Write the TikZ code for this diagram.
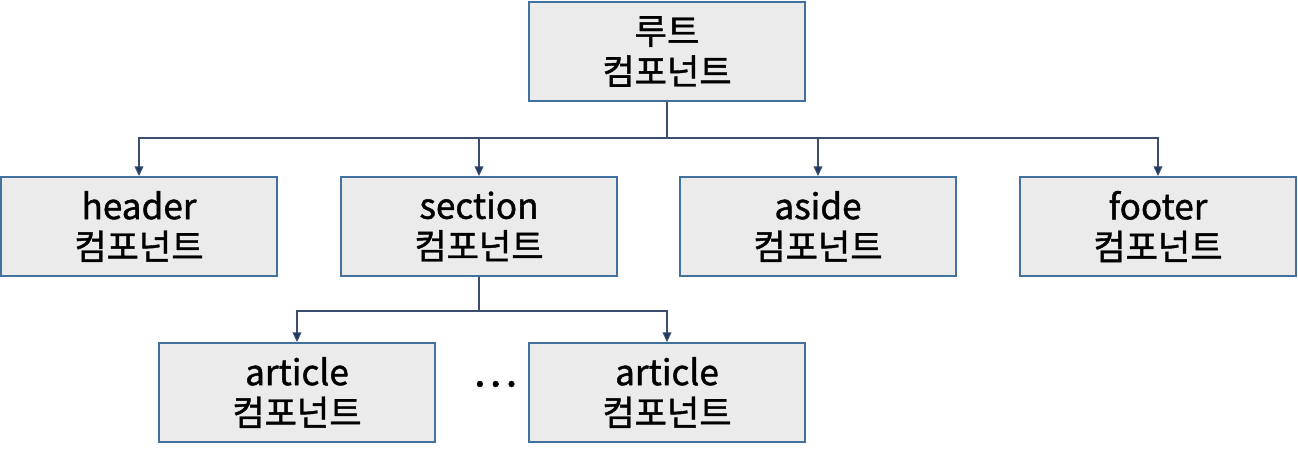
\documentclass[tikz,border=0pt]{standalone}
\usepackage{fontspec}
\setmainfont{Noto Sans CJK KR}
\newfontfamily\compfont[FakeBold=1.2]{Noto Sans CJK KR}
\usetikzlibrary{arrows.meta}
\definecolor{boxline}{HTML}{41719C}
\definecolor{boxfill}{HTML}{EBEBEB}
\definecolor{conn}{HTML}{3B4E6E}
\definecolor{tip}{HTML}{1F3864}
\tikzset{
  comp/.style={draw=boxline, line width=1.1pt, fill=boxfill, minimum width=5.52cm,
    minimum height=1.98cm, align=center, font=\compfont\fontsize{20}{23}\selectfont, inner sep=0pt},
  link/.style={draw=conn, line width=0.6pt, -{Triangle[width=5pt,length=5.5pt,fill=tip]}}
}
\begin{document}
\begin{tikzpicture}[x=0.02cm, y=-0.02cm]
        \useasboundingbox (0,0) rectangle (1298,458);

        % Componente radice
        \node[comp] (root) at (667,51.5) {루트\\컴포넌트};

        % Secondo livello
        \node[comp] (header) at (139,226.5) {header\\컴포넌트};
        \node[comp] (section) at (479,226.5) {section\\컴포넌트};
        \node[comp] (aside) at (818,226.5) {aside\\컴포넌트};
        \node[comp] (footer) at (1158,226.5) {footer\\컴포넌트};

        % Terzo livello (article)
        \node[comp] (art1) at (297,392.5) {article\\컴포넌트};
        \node[comp] (art2) at (667,392.5) {article\\컴포넌트};
        \node[font=\compfont\fontsize{24}{28}\selectfont] (dots) at (495,384) {⋯};

        % Collegamenti dalla radice
        \coordinate (rbus) at (667,138);
        \draw[draw=conn, line width=0.6pt] (root.south) -- (rbus);
        \foreach \c in {header, section, aside, footer}
          \draw[link] (rbus) -| (\c.north);

        % Collegamenti da section
        \coordinate (sbus) at (479,311);
        \draw[draw=conn, line width=0.6pt] (section.south) -- (sbus);
        \foreach \c in {art1, art2}
          \draw[link] (sbus) -| (\c.north);

    \end{tikzpicture}
\end{document}
